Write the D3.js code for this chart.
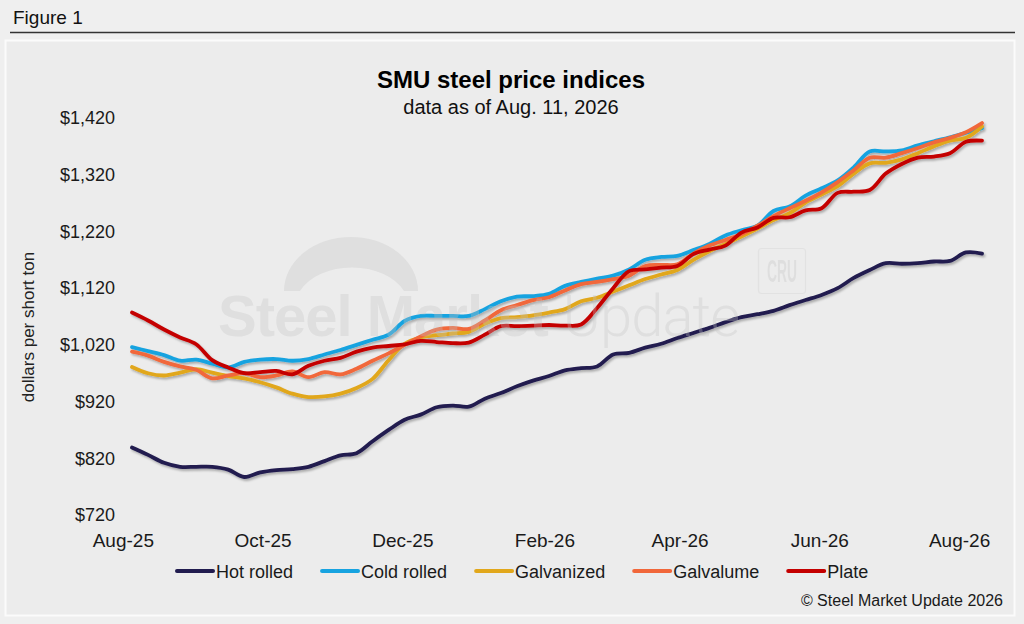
<!DOCTYPE html>
<html>
<head>
<meta charset="utf-8">
<script src="https://cdn.jsdelivr.net/npm/d3@7"></script>
<style>
  body { margin: 0; background: #efefef; }
  svg { display: block; font-family: "Liberation Sans", Arial, Helvetica, sans-serif; }
</style>
</head>
<body>
<div id="chart"></div>
<script>
// weekly index dates (Tuesdays), Aug 5 2025 .. Aug 11 2026
let firstDate = new Date(2025, 7, 5);
let nWeeks = 54;
let dates = d3.range(nWeeks).map(i => d3.timeDay.offset(firstDate, 7 * i));

let seriesNames = ["Hot rolled", "Cold rolled", "Galvanized", "Galvalume", "Plate"];
let seriesColors = ["#211c4f", "#17a3e0", "#e1a71b", "#f1673a", "#c40000"];

let hotRolled = [839, 826, 812, 805, 805, 805, 800, 787, 795, 799,
    801, 805, 815, 825, 829, 850, 870, 888, 897, 910,
    913, 911, 925, 935, 947, 957, 965, 975, 979, 982,
    1003, 1006, 1015, 1022, 1032, 1041, 1050, 1060, 1069, 1074,
    1080, 1090, 1099, 1108, 1120, 1138, 1152, 1164, 1163, 1164,
    1167, 1168, 1183, 1181];

let coldRolled = [1016, 1009, 1002, 992, 994, 987, 980, 990, 994, 995,
    992, 995, 1003, 1011, 1020, 1029, 1038, 1062, 1071, 1071,
    1071, 1071, 1083, 1097, 1105, 1106, 1110, 1124, 1131, 1137,
    1142, 1153, 1170, 1175, 1177, 1187, 1198, 1213, 1222, 1230,
    1256, 1264, 1283, 1296, 1310, 1333, 1361, 1361, 1363, 1372,
    1379, 1386, 1394, 1402];

let galvanized = [981, 970, 966, 971, 977, 971, 965, 961, 954, 945,
    934, 928, 929, 934, 944, 960, 993, 1022, 1033, 1037,
    1040, 1043, 1057, 1067, 1069, 1072, 1077, 1083, 1097, 1103,
    1114, 1125, 1136, 1144, 1152, 1170, 1185, 1198, 1211, 1225,
    1240, 1252, 1271, 1285, 1300, 1322, 1340, 1341, 1347, 1358,
    1370, 1380, 1385, 1405];

let galvalume = [1008, 1001, 990, 982, 976, 961, 966, 970, 963, 966,
    973, 963, 972, 968, 978, 992, 1005, 1020, 1035, 1047,
    1050, 1048, 1063, 1081, 1090, 1099, 1104, 1116, 1127, 1131,
    1136, 1142, 1159, 1161, 1162, 1181, 1195, 1205, 1215, 1230,
    1247, 1261, 1274, 1289, 1307, 1328, 1350, 1350, 1358, 1367,
    1377, 1385, 1395, 1411];

let plate = [1077, 1063, 1047, 1033, 1021, 993, 980, 970, 972, 974,
    968, 983, 992, 997, 1008, 1015, 1018, 1021, 1027, 1025,
    1023, 1024, 1038, 1053, 1053, 1054, 1055, 1054, 1056, 1085,
    1120, 1150, 1153, 1156, 1159, 1180, 1188, 1195, 1218, 1227,
    1244, 1245, 1257, 1261, 1288, 1290, 1293, 1322, 1339, 1350,
    1352, 1358, 1378, 1380];

let yTicks = [720, 820, 920, 1020, 1120, 1220, 1320, 1420];
let xTicks = [new Date(2025, 7, 1), new Date(2025, 9, 1), new Date(2025, 11, 1),
    new Date(2026, 1, 1), new Date(2026, 3, 1), new Date(2026, 5, 1), new Date(2026, 7, 1)];

let allSeries = [hotRolled, coldRolled, galvanized, galvalume, plate];

let width = 1024;
let height = 624;

let svg = d3.select("#chart")
    .append("svg")
    .attr("width", width)
    .attr("height", height);

// drop shadow for the lines
let defs = svg.append("defs");
let shadow = defs.append("filter")
    .attr("id", "shadow")
    .attr("x", "-5%").attr("y", "-5%")
    .attr("width", "110%").attr("height", "120%");
shadow.append("feDropShadow")
    .attr("dx", 1.5)
    .attr("dy", 2)
    .attr("stdDeviation", 1.2)
    .attr("flood-color", "#000")
    .attr("flood-opacity", 0.28);

// header
svg.append("text")
    .attr("x", 13)
    .attr("y", 24)
    .style("font-size", "19px")
    .style("fill", "#111")
    .text("Figure 1");

svg.append("line")
    .attr("x1", 10).attr("x2", 1015)
    .attr("y1", 32.5).attr("y2", 32.5)
    .style("stroke", "#333")
    .style("stroke-width", 1.3);

// panel
svg.append("rect")
    .attr("x", 5.5).attr("y", 40.5)
    .attr("width", 1009).attr("height", 575)
    .style("fill", "#ececec")
    .style("stroke", "#fbfbfb")
    .style("stroke-width", 2);

// titles
svg.append("text")
    .attr("x", 511)
    .attr("y", 88)
    .attr("text-anchor", "middle")
    .style("font-size", "24px")
    .style("font-weight", "bold")
    .style("fill", "#000")
    .text("SMU steel price indices");

svg.append("text")
    .attr("x", 511)
    .attr("y", 114)
    .attr("text-anchor", "middle")
    .style("font-size", "20px")
    .style("fill", "#111")
    .text("data as of Aug. 11, 2026");

// scales
let x = d3.scaleTime()
    .domain(d3.extent(dates))
    .range([132, 982]);

let y = d3.scaleLinear()
    .domain([720, 1420])
    .range([515, 118]);

// y axis
let yAxis = svg.append("g")
    .attr("transform", "translate(132,0)")
    .call(d3.axisLeft(y).tickValues(yTicks).tickSize(0).tickPadding(17).tickFormat(d3.format("$,")));
yAxis.select(".domain").remove();
yAxis.selectAll("text")
    .style("font-size", "18px")
    .style("font-family", "\"Liberation Sans\", Arial, sans-serif")
    .style("fill", "#1a1a1a");

svg.append("text")
    .attr("text-anchor", "middle")
    .attr("transform", "rotate(-90)")
    .attr("x", -327)
    .attr("y", 34)
    .style("font-size", "17px")
    .style("fill", "#222")
    .text("dollars per short ton");

// x axis
let xAxis = svg.append("g")
    .attr("transform", "translate(0,515)")
    .call(d3.axisBottom(x).tickValues(xTicks).tickSize(0).tickPadding(19).tickFormat(d3.timeFormat("%b-%y")));
xAxis.select(".domain").remove();
xAxis.selectAll("text")
    .style("font-size", "19px")
    .style("font-family", "\"Liberation Sans\", Arial, sans-serif")
    .style("fill", "#1a1a1a");

// lines
let line = d3.line()
    .x((d, i) => x(dates[i]))
    .y(d => y(d))
    .curve(d3.curveCatmullRom.alpha(0.5));

svg.append("g")
    .attr("filter", "url(#shadow)")
    .selectAll("path")
    .data(allSeries)
    .enter()
    .append("path")
    .attr("d", d => line(d))
    .style("fill", "none")
    .style("stroke", (d, i) => seriesColors[i])
    .style("stroke-width", 3.8)
    .style("stroke-linejoin", "round")
    .style("stroke-linecap", "round");

// watermark (drawn over the lines, semi transparent)
let wm = svg.append("g")
    .style("opacity", 0.32)
    .style("pointer-events", "none");

wm.append("path")
    .attr("d", "M284,291 A67,54 0 0 1 418,291 L404,291 A57,40 0 0 0 300,291 Z")
    .style("fill", "#c4c4c4");

let wmText = wm.append("text")
    .attr("x", 218)
    .attr("y", 336)
    .style("font-size", "58px")
    .style("fill", "#c4c4c4")
    .style("letter-spacing", "-1px");
wmText.append("tspan")
    .style("font-weight", "bold")
    .text("Steel Market ");
wmText.append("tspan")
    .style("font-family", "Roboto, \"Liberation Sans\", sans-serif")
    .style("font-weight", 300)
    .text("Update");

let cru = svg.append("g")
    .style("opacity", 0.45);
cru.append("rect")
    .attr("x", 758.5).attr("y", 248.5)
    .attr("width", 47).attr("height", 45)
    .attr("rx", 3)
    .style("fill", "none")
    .style("stroke", "#d8d8d8")
    .style("stroke-width", 1.2);
cru.append("text")
    .attr("x", 782)
    .attr("y", 282)
    .attr("text-anchor", "middle")
    .attr("textLength", 30)
    .attr("lengthAdjust", "spacingAndGlyphs")
    .style("font-size", "31px")
    .style("font-weight", "bold")
    .style("fill", "#cfcfcf")
    .text("CRU");

// legend
let legend = svg.append("g")
    .attr("transform", "translate(0,571)");

let lx = 177;
seriesNames.forEach((name, i) => {
    let item = legend.append("g").attr("transform", "translate(" + lx + ",0)");
    item.append("line")
        .attr("x1", 0).attr("x2", 36)
        .attr("y1", 0).attr("y2", 0)
        .style("stroke", seriesColors[i])
        .style("stroke-width", 4)
        .style("stroke-linecap", "round");
    let t = item.append("text")
        .attr("x", 39)
        .attr("y", 6.5)
        .style("font-size", "18px")
        .style("fill", "#1a1a1a")
        .text(name);
    lx += 39 + t.node().getComputedTextLength() + 29;
});

// source
svg.append("text")
    .attr("x", 1003)
    .attr("y", 606)
    .attr("text-anchor", "end")
    .style("font-size", "16px")
    .style("fill", "#1a1a1a")
    .text("\u00a9 Steel Market Update 2026");
</script>
</body>
</html>
